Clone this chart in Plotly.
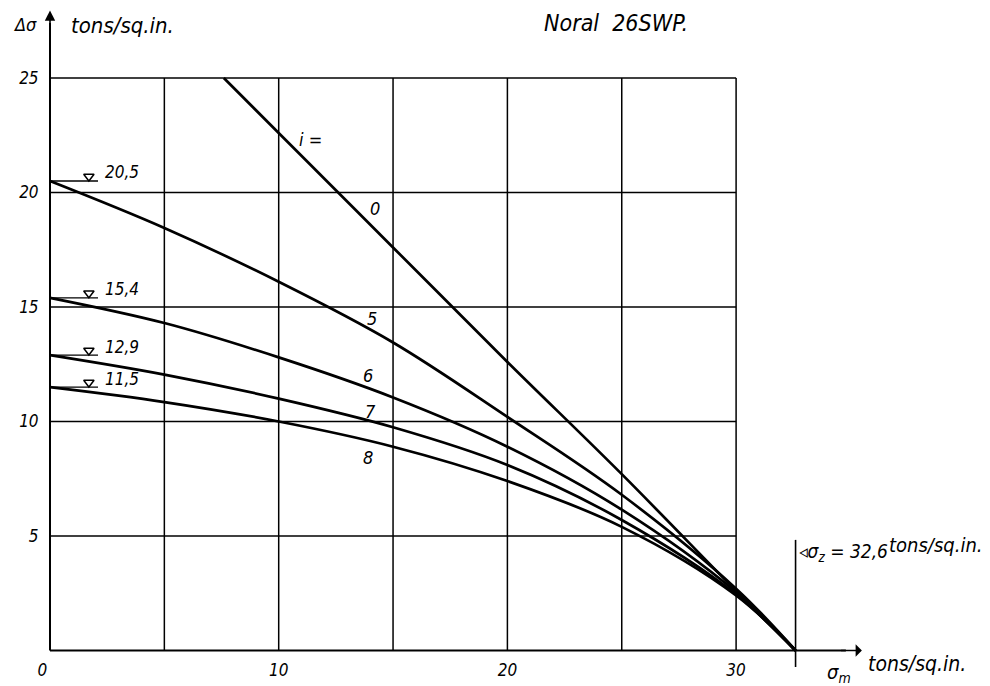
import plotly.graph_objects as go

# ---- data ----
sigma_m = [0, 5, 10, 15, 20, 25, 30, 32.6]
curve_i5 = [20.5, 18.45, 16.1, 13.45, 10.2, 6.8, 2.7, 0]
curve_i6 = [15.4, 14.3, 12.8, 11.05, 8.9, 6.15, 2.55, 0]
curve_i7 = [12.9, 12.05, 11.0, 9.75, 8.1, 5.7, 2.45, 0]
curve_i8 = [11.5, 10.85, 10.0, 8.9, 7.4, 5.4, 2.4, 0]
sigma_m_i0 = [7.6, 10, 15, 20, 25, 30, 32.6]
curve_i0 = [25, 22.6, 17.6, 12.6, 7.7, 2.6, 0]

start_levels = [20.5, 15.4, 12.9, 11.5]
start_labels = ["20,5", "15,4", "12,9", "11,5"]

curve_names = ["0", "5", "6", "7", "8"]
curve_label_x = [14.2, 14.1, 13.9, 14.0, 13.9]
curve_label_y = [19.3, 14.5, 12.0, 10.45, 8.45]

sigma_z = 32.6
x_ticks = [0, 10, 20, 30]
x_tick_text = ["0\u2003", "10", "20", "30"]
y_ticks = [5, 10, 15, 20, 25]
y_tick_text = ["5", "10", "15", "20", "25"]
grid_x = [5, 10, 15, 20, 25, 30]
grid_y = [5, 10, 15, 20, 25]

FONT = "DejaVu Sans Condensed, Liberation Sans Narrow, DejaVu Sans"
W, H = 990, 686
OFF = 8  # page body margin
px_x = 22.87
px_y = 22.9
x_min = -(50 - OFF) / px_x
x_max = x_min + W / px_x
y_min = -(H - (650.5 - OFF)) / px_y
y_max = y_min + H / px_y

fig = go.Figure()

line_style = dict(color="black", width=2.7)
for xs, ys in [(sigma_m_i0, curve_i0), (sigma_m, curve_i5), (sigma_m, curve_i6),
               (sigma_m, curve_i7), (sigma_m, curve_i8)]:
    fig.add_trace(go.Scatter(x=xs, y=ys, mode="lines", line=dict(shape="spline", smoothing=1.0, **line_style),
                             hoverinfo="skip", showlegend=False))

# start-level marks
for lv in start_levels:
    fig.add_trace(go.Scatter(x=[0, 2.1], y=[lv, lv], mode="lines",
                             line=dict(color="black", width=1.4), showlegend=False, hoverinfo="skip"))
fig.add_trace(go.Scatter(x=[1.7] * len(start_levels), y=[v + 0.2 for v in start_levels], mode="markers",
                         marker=dict(symbol="triangle-down-open", size=9, color="black", line=dict(width=1.5)),
                         showlegend=False, hoverinfo="skip"))

shapes = []
for gx in grid_x:
    shapes.append(dict(type="line", xref="x", yref="y", x0=gx, x1=gx, y0=0, y1=25,
                       line=dict(color="black", width=1.5)))
for gy in grid_y:
    shapes.append(dict(type="line", xref="x", yref="y", x0=0, x1=30, y0=gy, y1=gy,
                       line=dict(color="black", width=1.5)))
# axes
shapes.append(dict(type="line", xref="x", yref="y", x0=0, x1=34.8, y0=0, y1=0,
                   line=dict(color="black", width=2)))
shapes.append(dict(type="line", xref="x", yref="y", x0=0, x1=0, y0=0, y1=27.4,
                   line=dict(color="black", width=2)))
# sigma_z line
shapes.append(dict(type="line", xref="x", yref="y", x0=sigma_z, x1=sigma_z, y0=-0.72, y1=4.83,
                   line=dict(color="black", width=1.6)))

annotations = []
# arrows
annotations.append(dict(x=0, y=27.95, ax=0, ay=27.0, xref="x", yref="y", axref="x", ayref="y",
                        text=" ", showarrow=True, arrowhead=2, arrowsize=1.3, arrowwidth=1.6,
                        arrowcolor="black", font=dict(size=2)))
annotations.append(dict(x=35.5, y=0, ax=34.5, ay=0, xref="x", yref="y", axref="x", ayref="y",
                        text=" ", showarrow=True, arrowhead=1, arrowsize=1.3, arrowwidth=1.6,
                        arrowcolor="black", font=dict(size=2)))

italic = dict(family=FONT, color="black", style="italic")

for lv, lab in zip(start_levels, start_labels):
    annotations.append(dict(x=2.3, y=lv - 0.15, xref="x", yref="y", text=lab, showarrow=False,
                            xanchor="left", yanchor="bottom", font=dict(size=17, **italic)))

annotations.append(dict(x=11.4, y=22.3, xref="x", yref="y", text="i =", showarrow=False,
                        font=dict(size=18, **italic)))
for nm, lx, ly in zip(curve_names, curve_label_x, curve_label_y):
    annotations.append(dict(x=lx, y=ly, xref="x", yref="y", text=nm, showarrow=False,
                            font=dict(size=18, **italic)))

annotations.append(dict(x=24.75, y=27.4, xref="x", yref="y", text="Noral  26SWP.", showarrow=False,
                        font=dict(size=23, **italic)))
annotations.append(dict(x=-0.5, y=27.35, xref="x", yref="y", text="Δσ", showarrow=False,
                        xanchor="right", font=dict(size=18, **italic)))
annotations.append(dict(x=0.85, y=27.3, xref="x", yref="y", text="tons/sq.in.", showarrow=False,
                        xanchor="left", font=dict(size=22, **italic)))

annotations.append(dict(x=32.65, y=4.3, xref="x", yref="y", text="◃σ<sub>z</sub> = 32,6", showarrow=False,
                        xanchor="left", font=dict(size=19, **italic)))
annotations.append(dict(x=36.6, y=4.6, xref="x", yref="y", text="tons/sq.in.", showarrow=False,
                        xanchor="left", font=dict(size=20, **italic)))
annotations.append(dict(x=33.9, y=-1.0, xref="x", yref="y", text="σ<sub>m</sub>", showarrow=False,
                        xanchor="left", font=dict(size=20, **italic)))
annotations.append(dict(x=35.7, y=-0.6, xref="x", yref="y", text="tons/sq.in.", showarrow=False,
                        xanchor="left", font=dict(size=21, **italic)))

fig.update_layout(
    width=W, height=H,
    margin=dict(l=0, r=0, t=0, b=0),
    paper_bgcolor="white", plot_bgcolor="white",
    shapes=shapes, annotations=annotations,
    xaxis=dict(range=[x_min, x_max], showgrid=False, zeroline=False, showline=False,
               tickvals=x_ticks, ticktext=x_tick_text,
               anchor="free", position=(0 - y_min) / (y_max - y_min),
               ticks="outside", ticklen=4, tickcolor="rgba(0,0,0,0)",
               tickfont=dict(size=17, **italic), fixedrange=True),
    yaxis=dict(range=[y_min, y_max], showgrid=False, zeroline=False, showline=False,
               tickvals=y_ticks, ticktext=y_tick_text,
               anchor="free", position=(0 - x_min) / (x_max - x_min),
               ticks="outside", ticklen=8, tickcolor="rgba(0,0,0,0)",
               tickfont=dict(size=17, **italic), fixedrange=True),
)

fig.write_html("out.html")
